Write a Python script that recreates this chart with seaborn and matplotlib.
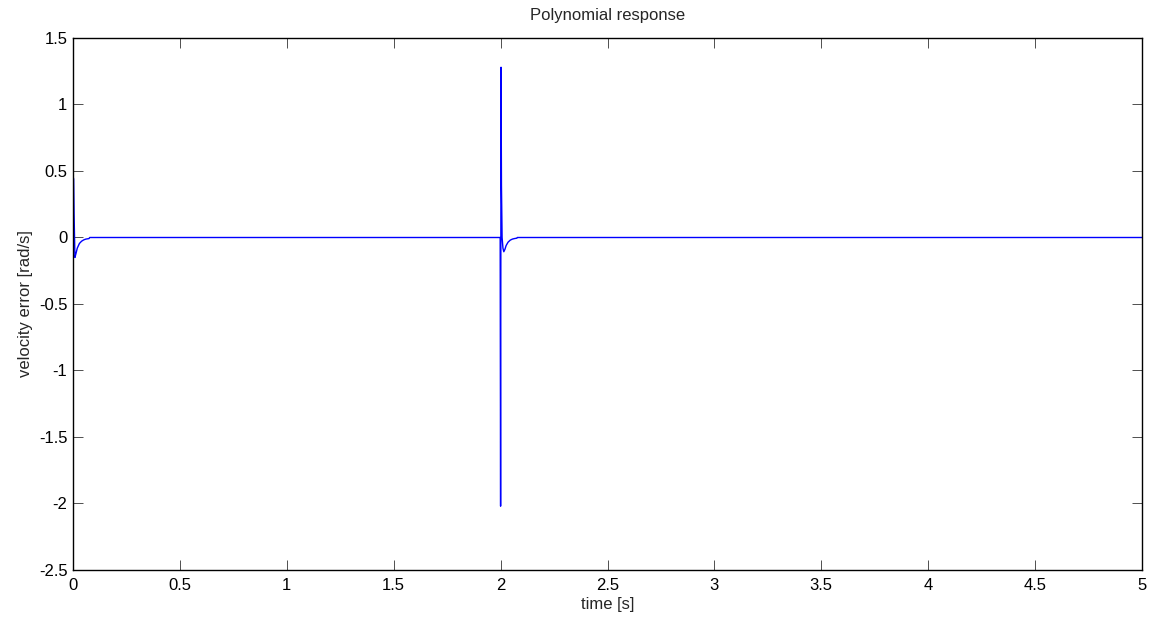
import matplotlib
matplotlib.use("Agg")
import matplotlib.pyplot as plt
import seaborn as sns
import pandas as pd

# Data
time_s = [0.000, 0.003, 0.005, 0.009, 0.014, 0.020, 0.030, 0.040, 0.050,
          0.060, 0.075, 0.078, 0.100, 1.998, 2.000, 2.002, 2.004, 2.007,
          2.011, 2.015, 2.020, 2.026, 2.035, 2.045, 2.055, 2.065, 2.076,
          2.078, 2.100, 5.000]
vel_err = [0.46, 0.44, 0.18, -0.15, -0.12, -0.08, -0.045, -0.028, -0.018,
           -0.012, -0.008, 0.0, 0.0, 0.0, -2.02, 1.28, 0.39, 0.0,
           -0.08, -0.107, -0.09, -0.06, -0.035, -0.02, -0.012, -0.008, -0.005,
           0.0, 0.0, 0.0]
x_ticks = [0, 0.5, 1, 1.5, 2, 2.5, 3, 3.5, 4, 4.5, 5]
x_tick_labels = ["0", "0.5", "1", "1.5", "2", "2.5", "3", "3.5", "4", "4.5", "5"]
y_ticks = [-2.5, -2, -1.5, -1, -0.5, 0, 0.5, 1, 1.5]
y_tick_labels = ["-2.5", "-2", "-1.5", "-1", "-0.5", "0", "0.5", "1", "1.5"]

df = pd.DataFrame({"t": time_s, "e": vel_err})

sns.set_style("white")
plt.rcParams["font.family"] = ["Liberation Sans", "DejaVu Sans"]

fig = plt.figure(figsize=(11.5, 6.26), dpi=100)
ax = fig.add_axes([73 / 1150, 1 - 570 / 626, (1142 - 73) / 1150, (570 - 38) / 626])

sns.lineplot(data=df, x="t", y="e", ax=ax, color="#0000ff", linewidth=1.0,
             estimator=None, sort=False)

ax.set_xlim(0, 5)
ax.set_ylim(-2.5, 1.5)
ax.set_xticks(x_ticks)
ax.set_xticklabels(x_tick_labels)
ax.set_yticks(y_ticks)
ax.set_yticklabels(y_tick_labels)

ax.tick_params(axis="both", which="both", direction="in", length=7, width=0.6,
               color="#333333", labelsize=12, top=True, right=True,
               bottom=True, left=True, labelcolor="black")
ax.tick_params(axis="x", pad=6)
ax.tick_params(axis="y", pad=4)
for s in ax.spines.values():
    s.set_visible(True)
    s.set_color("black")
    s.set_linewidth(1.0)

ax.set_xlabel("time [s]", fontsize=12, labelpad=3)
ax.set_ylabel("velocity error [rad/s]", fontsize=12, labelpad=4)
ax.set_title("Polynomial response", fontsize=12, pad=13)

fig.savefig("out.png", dpi=100)
